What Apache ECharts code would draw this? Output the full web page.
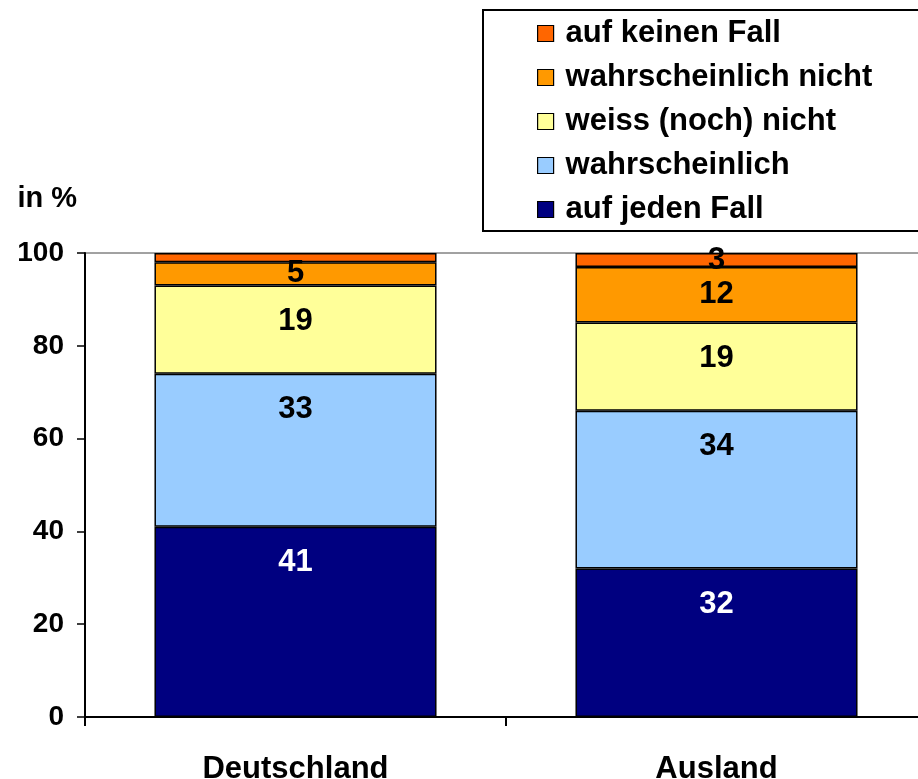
<!DOCTYPE html>
<html>
<head>
<meta charset="utf-8">
<script src="https://cdn.jsdelivr.net/npm/echarts@6/dist/echarts.min.js"></script>
<style>
  html, body { margin: 0; padding: 0; background: #fff; }
  #main { width: 918px; height: 779px; }
</style>
</head>
<body>
<div id="main"></div>
<script>
// Daten aus dem Diagramm
var laender = ['Deutschland', 'Ausland'];
var aufJedenFall = [41, 32];
var wahrscheinlich = [33, 34];
var weissNochNicht = [19, 19];
var wahrscheinlichNicht = [5, 12];
var aufKeinenFall = [2, 3];
var yTicks = [0, 20, 40, 60, 80, 100];

var FONT = '"Liberation Sans", Arial, sans-serif';

function labelCfg(color) {
  return {
    show: true,
    position: 'insideTop',
    distance: 20,
    color: color,
    fontFamily: FONT,
    fontWeight: 'bold',
    fontSize: 31
  };
}

// kleine Segmente: Beschriftung mittig, sonst oben im Segment
function serie(name, values, color, labelColor, hideIdx) {
  return {
    name: name,
    type: 'bar',
    stack: 'gesamt',
    barWidth: '67%',
    itemStyle: { color: color, borderColor: '#000', borderWidth: 1.5 },
    label: labelCfg(labelColor),
    data: values.map(function (v, i) {
      if (hideIdx === i) return { value: v, label: { show: false } };
      if (v < 14) return { value: v, label: { position: 'inside' } };
      return v;
    })
  };
}

var myChart = echarts.init(document.getElementById('main'));

myChart.setOption({
  animation: false,
  backgroundColor: '#fff',
  grid: {
    left: 85,
    top: 253,
    bottom: 62,
    right: -9,
    outerBoundsMode: 'none',
    containLabel: false,
    show: true,
    borderColor: '#444',
    borderWidth: 1
  },
  legend: {
    orient: 'vertical',
    left: 483,
    top: 10,
    padding: [8, 120, 6, 54],
    itemGap: 13,
    itemWidth: 16,
    itemHeight: 16,
    icon: 'rect',
    borderColor: '#000',
    borderWidth: 2,
    itemStyle: { borderColor: '#000', borderWidth: 1.2 },
    textStyle: {
      fontFamily: FONT,
      fontWeight: 'bold',
      fontSize: 31,
      color: '#000',
      padding: [0, 0, 0, 7]
    },
    data: ['auf keinen Fall', 'wahrscheinlich nicht', 'weiss (noch) nicht', 'wahrscheinlich', 'auf jeden Fall']
  },
  xAxis: {
    type: 'category',
    data: laender,
    axisLine: { lineStyle: { color: '#000', width: 2 } },
    axisTick: { show: true, length: 9, lineStyle: { color: '#000', width: 2 } },
    axisLabel: {
      margin: 37,
      color: '#000',
      fontFamily: FONT,
      fontWeight: 'bold',
      fontSize: 31
    }
  },
  yAxis: {
    type: 'value',
    min: yTicks[0],
    max: yTicks[yTicks.length - 1],
    interval: 20,
    name: 'in %',
    nameLocation: 'end',
    nameGap: 40,
    nameTextStyle: {
      align: 'right',
      padding: [0, 8, 0, 0],
      color: '#000',
      fontFamily: FONT,
      fontWeight: 'bold',
      fontSize: 29
    },
    splitLine: { show: false },
    axisLine: { show: true, lineStyle: { color: '#000', width: 2 } },
    axisTick: { show: true, length: 8, lineStyle: { color: '#000', width: 1.5 } },
    axisLabel: {
      margin: 21,
      color: '#000',
      fontFamily: FONT,
      fontWeight: 'bold',
      fontSize: 28
    }
  },
  series: [
    serie('auf jeden Fall', aufJedenFall, '#000080', '#fff'),
    serie('wahrscheinlich', wahrscheinlich, '#99CCFF', '#000'),
    serie('weiss (noch) nicht', weissNochNicht, '#FFFF99', '#000'),
    serie('wahrscheinlich nicht', wahrscheinlichNicht, '#FF9900', '#000'),
    serie('auf keinen Fall', aufKeinenFall, '#FF6600', '#000', 0)
  ]
});
</script>
</body>
</html>
